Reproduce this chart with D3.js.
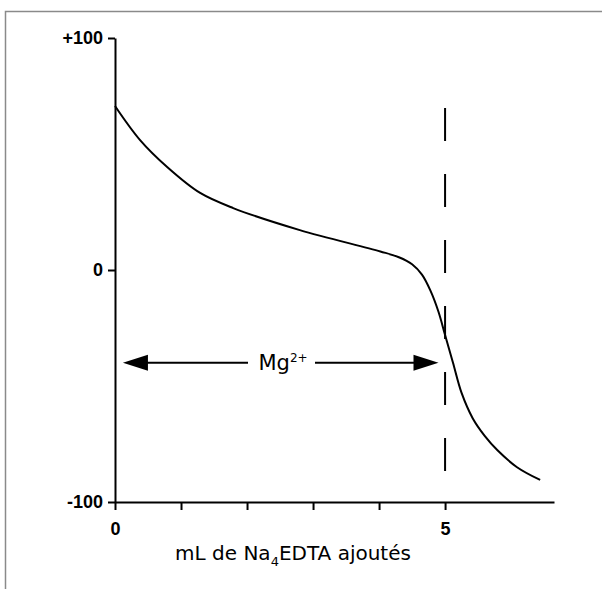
<!DOCTYPE html>
<html>
<head>
<meta charset="utf-8">
<script src="https://cdn.jsdelivr.net/npm/d3@7"></script>
<style>
  body { margin: 0; background: #fff; }
  svg { display: block; }
</style>
</head>
<body>
<svg id="chart" width="602" height="589"></svg>
<script>
// titration curve (mL added, potential)
var volumes    = [0, 0.38, 0.79, 1.29, 1.79, 2.8, 4.02, 4.3, 4.5, 4.65, 4.78, 4.9, 5.0, 5.12, 5.25, 5.42, 5.6, 5.79, 6.09, 6.44];
var potentials = [70.7, 56, 44.4, 33.2, 26.7, 17.2, 8, 5.5, 2.5, -2, -9, -18, -28, -40, -53, -64, -71.5, -77.6, -85, -90.5];

var xTicks = [0, 1, 2, 3, 4, 5];
var xTickLabels = ["0", "", "", "", "", "5"];
var yTicks = [100, 0, -100];
var yTickLabels = ["+100", "0", "-100"];

var endpoint = 5;        // dashed line
var arrowLevel = -40;    // Mg2+ arrow
var arrowFrom = 0.12, arrowTo = 4.9;

var svg = d3.select("#chart");
var tickFont = "'Liberation Sans Narrow', 'Liberation Sans', Arial, sans-serif";
var textFont = "'DejaVu Sans', 'Liberation Sans', sans-serif";

// outer frame
svg.append("path")
    .attr("d", "M5.5,589 V11.5 H602")
    .attr("fill", "none")
    .attr("stroke", "#8a8a8a")
    .attr("stroke-width", 1.5);

var xScale = d3.scaleLinear().domain([0, 6.65]).range([115, 554]);
var yScale = d3.scaleLinear().domain([-100, 100]).range([502, 38]);

var xAxis = svg.append("g")
    .attr("transform", "translate(0,502)")
    .call(d3.axisBottom(xScale).tickValues(xTicks).tickSize(8).tickSizeOuter(0)
        .tickFormat(function(d, i) { return xTickLabels[i]; }));

var yAxis = svg.append("g")
    .attr("transform", "translate(115,0)")
    .call(d3.axisLeft(yScale).tickValues(yTicks).tickSize(7).tickSizeOuter(0)
        .tickFormat(function(d, i) { return yTickLabels[i]; }));

[xAxis, yAxis].forEach(function(ax) {
    ax.select(".domain").attr("stroke", "#000").attr("stroke-width", 2);
    ax.selectAll(".tick line").attr("stroke", "#000").attr("stroke-width", 2);
    ax.selectAll(".tick text")
        .attr("fill", "#000")
        .style("font-family", tickFont)
        .style("font-weight", "bold")
        .style("font-size", "18px");
});
xAxis.selectAll(".tick text").attr("dy", "1.2em");
yAxis.selectAll(".tick text").attr("x", -12);

// dashed endpoint line
svg.append("line")
    .attr("x1", xScale(endpoint)).attr("x2", xScale(endpoint))
    .attr("y1", 108).attr("y2", 473)
    .attr("stroke", "#000")
    .attr("stroke-width", 2)
    .attr("stroke-dasharray", "33,33");

// curve
var pts = volumes.map(function(v, i) { return [v, potentials[i]]; });
var line = d3.line()
    .x(function(d) { return xScale(d[0]); })
    .y(function(d) { return yScale(d[1]); })
    .curve(d3.curveCatmullRom.alpha(0.5));

svg.append("path")
    .datum(pts)
    .attr("d", line)
    .attr("fill", "none")
    .attr("stroke", "#000")
    .attr("stroke-width", 2);

// Mg2+ double arrow
var ay = yScale(arrowLevel);
var x0 = xScale(arrowFrom), x1 = xScale(arrowTo);
var labelX = 283;

svg.append("line").attr("x1", x0 + 20).attr("x2", labelX - 35)
    .attr("y1", ay).attr("y2", ay).attr("stroke", "#000").attr("stroke-width", 2);
svg.append("line").attr("x1", labelX + 32).attr("x2", x1 - 20)
    .attr("y1", ay).attr("y2", ay).attr("stroke", "#000").attr("stroke-width", 2);
svg.append("path")
    .attr("d", "M" + x0 + "," + ay + " L" + (x0 + 25) + "," + (ay - 8) + " L" + (x0 + 25) + "," + (ay + 8) + "Z")
    .attr("fill", "#000");
svg.append("path")
    .attr("d", "M" + x1 + "," + ay + " L" + (x1 - 25) + "," + (ay - 8) + " L" + (x1 - 25) + "," + (ay + 8) + "Z")
    .attr("fill", "#000");

var mg = svg.append("text")
    .attr("x", labelX)
    .attr("y", ay + 7)
    .attr("text-anchor", "middle")
    .style("font-family", textFont)
    .style("font-size", "21px");
mg.append("tspan").text("Mg");
mg.append("tspan").attr("dy", -8).style("font-size", "12px").text("2+");

// axis title
var title = svg.append("text")
    .attr("x", 293)
    .attr("y", 560)
    .attr("text-anchor", "middle")
    .style("font-family", textFont)
    .style("font-size", "20px");
title.append("tspan").text("mL de Na");
title.append("tspan").attr("dy", 6).style("font-size", "13px").text("4");
title.append("tspan").attr("dy", -6).text("EDTA ajoutés");
</script>
</body>
</html>
